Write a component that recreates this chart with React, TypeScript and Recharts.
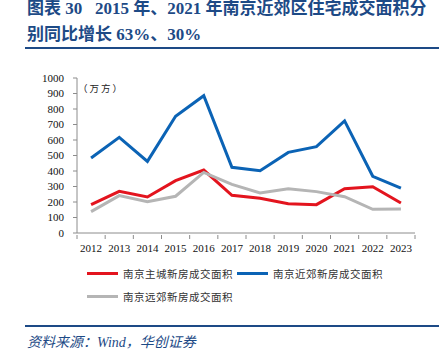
import { CartesianGrid, Line, LineChart, XAxis, YAxis } from "recharts";

const YEARS = ["2012", "2013", "2014", "2015", "2016", "2017", "2018", "2019", "2020", "2021", "2022", "2023"];
const MAIN_CITY = [183, 269, 232, 338, 406, 243, 224, 189, 183, 286, 299, 194];
const NEAR_SUBURB = [484, 617, 462, 753, 886, 424, 402, 520, 557, 723, 366, 290];
const FAR_SUBURB = [138, 241, 202, 237, 391, 314, 258, 286, 267, 234, 153, 155];
const Y_TICKS = [0, 100, 200, 300, 400, 500, 600, 700, 800, 900, 1000];

const SERIES = [
  { key: "main", name: "南京主城新房成交面积", color: "#E3141E" },
  { key: "near", name: "南京近郊新房成交面积", color: "#0B63B5" },
  { key: "far", name: "南京远郊新房成交面积", color: "#B5B5B5" },
];

const NAVY = "#1D4A86";
const SERIF = "'Liberation Serif', 'Noto Sans CJK SC', serif";
const CJK = "'Noto Sans CJK SC', sans-serif";
const AXIS = "#8c8c8c";
const HALF_BAND = 338 / 12 / 2;

const data = YEARS.map((year, i) => ({
  year,
  main: MAIN_CITY[i],
  near: NEAR_SUBURB[i],
  far: FAR_SUBURB[i],
}));

function XTick({ x, y, payload }: any) {
  const i = YEARS.indexOf(payload.value);
  const axisY = y - 6;
  return (
    <g>
      <line x1={x - HALF_BAND} x2={x - HALF_BAND} y1={axisY} y2={axisY + 4} stroke={AXIS} />
      {i === YEARS.length - 1 && (
        <line x1={x + HALF_BAND} x2={x + HALF_BAND} y1={axisY} y2={axisY + 4} stroke={AXIS} />
      )}
      <text x={x} y={y + 8} textAnchor="middle" dominantBaseline="middle" fontSize={11} fontFamily={SERIF} fill="#111">
        {payload.value}
      </text>
    </g>
  );
}

function LegendItem({ color, name, left, top }: { color: string; name: string; left: number; top: number }) {
  return (
    <div style={{ position: "absolute", left, top, display: "flex", alignItems: "center" }}>
      <span style={{ width: 31, height: 3, background: color, marginRight: 5 }} />
      <span style={{ fontFamily: CJK, fontSize: 10.5, letterSpacing: 0.5, color: "#333", whiteSpace: "nowrap" }}>{name}</span>
    </div>
  );
}

export default function App() {
  return (
    <div style={{ position: "absolute", left: 0, top: 0, width: 439, height: 360, background: "#fff", overflow: "hidden" }}>
      <div style={{ position: "absolute", left: 27, top: -4, color: NAVY, fontFamily: SERIF, fontWeight: 700, fontSize: 17, lineHeight: "26px", whiteSpace: "nowrap" }}>
        <div>图表 30&nbsp;&nbsp; 2015 年、2021 年南京近郊区住宅成交面积分</div>
        <div>别同比增长 63%、30%</div>
      </div>
      <div style={{ position: "absolute", left: 25, top: 47, width: 414, height: 2, background: NAVY }} />

      <div style={{ position: "absolute", left: 0, top: 0 }}>
        <LineChart width={439} height={260} data={data} margin={{ top: 78, right: 24, left: 0, bottom: 7 }}>
          <CartesianGrid horizontal={false} vertical={false} />
          <XAxis
            dataKey="year"
            height={20}
            padding={{ left: HALF_BAND, right: HALF_BAND }}
            axisLine={{ stroke: AXIS }}
            tickLine={false}
            tick={<XTick />}
            interval={0}
          />
          <YAxis
            width={77}
            domain={[0, 1000]}
            ticks={Y_TICKS}
            interval={0}
            axisLine={{ stroke: AXIS }}
            tickLine={{ stroke: AXIS }}
            tickSize={4}
            tickMargin={9}
            tick={{ fontSize: 11, fontFamily: SERIF, fill: "#111" }}
          />
          {SERIES.map((s) => (
            <Line
              key={s.key}
              dataKey={s.key}
              name={s.name}
              stroke={s.color}
              strokeWidth={3}
              dot={false}
              type="linear"
              isAnimationActive={false}
            />
          ))}
        </LineChart>
      </div>

      <div style={{ position: "absolute", left: 78, top: 81, fontFamily: CJK, fontSize: 9.5, letterSpacing: 2, color: "#222", whiteSpace: "nowrap" }}>
        （万方）
      </div>

      <LegendItem color={SERIES[0].color} name={SERIES[0].name} left={87} top={266} />
      <LegendItem color={SERIES[1].color} name={SERIES[1].name} left={237} top={266} />
      <LegendItem color={SERIES[2].color} name={SERIES[2].name} left={87} top={289} />

      <div style={{ position: "absolute", left: 25, top: 325, width: 414, height: 2, background: NAVY }} />
      <div style={{ position: "absolute", left: 27, top: 331, color: NAVY, fontFamily: SERIF, fontStyle: "italic", fontSize: 14, whiteSpace: "nowrap" }}>
        资料来源：Wind，华创证券
      </div>
    </div>
  );
}
